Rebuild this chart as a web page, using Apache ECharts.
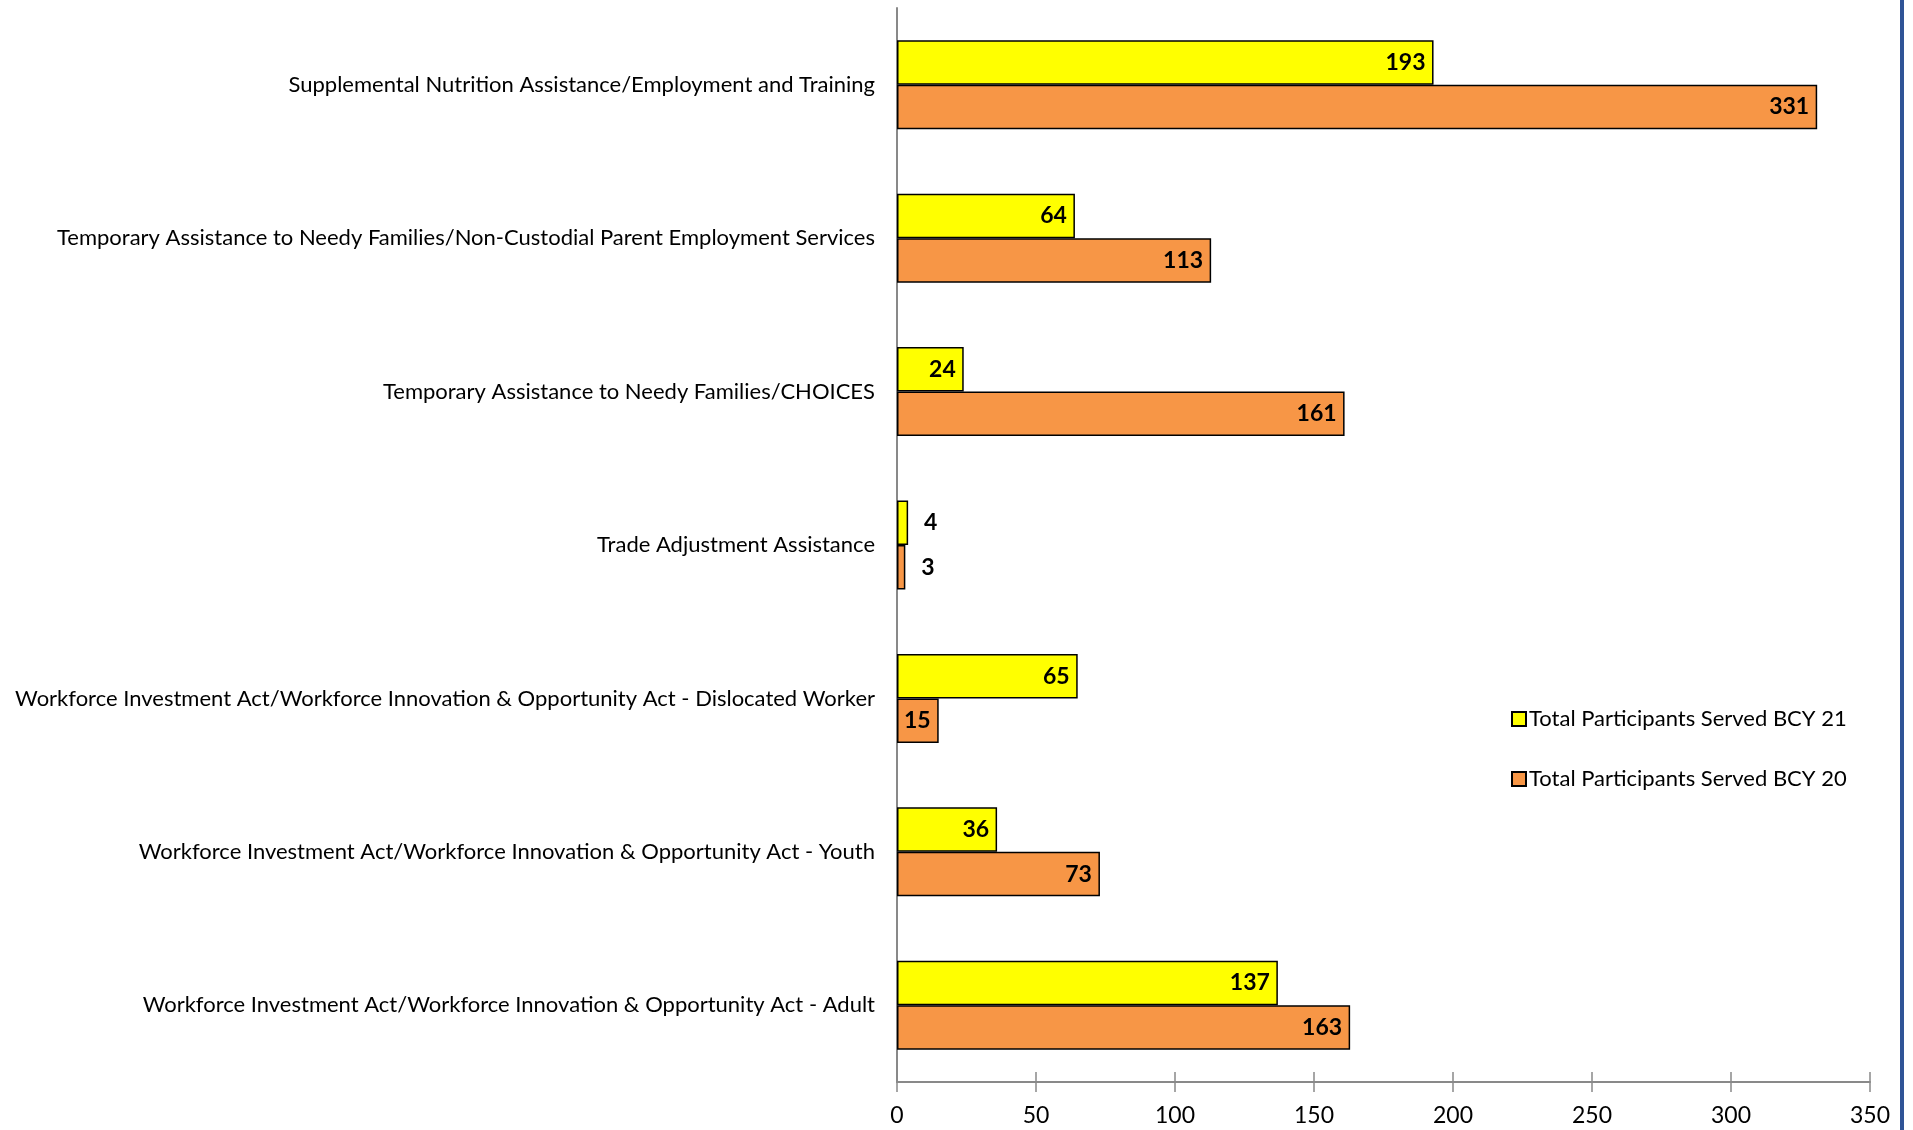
<!DOCTYPE html>
<html><head><meta charset="utf-8">
<script src="https://cdn.jsdelivr.net/npm/echarts@6/dist/echarts.min.js"></script>
<style>html,body{margin:0;padding:0;background:#fff}#c{width:1913px;height:1130px}</style>
</head><body><div id="c"></div>
<script>
const categories = [
  'Supplemental Nutrition Assistance/Employment and Training',
  'Temporary Assistance to Needy Families/Non-Custodial Parent Employment Services',
  'Temporary Assistance to Needy Families/CHOICES',
  'Trade Adjustment Assistance',
  'Workforce Investment Act/Workforce Innovation & Opportunity Act - Dislocated Worker',
  'Workforce Investment Act/Workforce Innovation & Opportunity Act - Youth',
  'Workforce Investment Act/Workforce Innovation & Opportunity Act - Adult'
];
const bcy21 = [193, 64, 24, 4, 65, 36, 137];
const bcy20 = [331, 113, 161, 3, 15, 73, 163];
const seriesNames = ['Total Participants Served BCY 21', 'Total Participants Served BCY 20'];
const xTicks = [0, 50, 100, 150, 200, 250, 300, 350];

const FONT = 'Lato';
function mkData(arr){
  return arr.map(v => v < 10
    ? {value: v, label: {position: 'right', distance: 16}}
    : {value: v});
}
const labelCfg = {show: true, position: 'insideRight', distance: 8, color: '#000',
  fontWeight: 'bold', fontSize: 23, fontFamily: FONT};
const axisBase = {type: 'value', min: xTicks[0], max: xTicks[xTicks.length-1], interval: 50,
  splitLine: {show: false}};
const chart = echarts.init(document.getElementById('c'));
chart.setOption({
  animation: false,
  textStyle: {fontFamily: FONT},
  grid: {left: 897, right: 43, top: 8, bottom: 48},
  legend: {
    orient: 'vertical', left: 1506, top: 703, itemGap: 38, icon: 'rect',
    itemWidth: 14, itemHeight: 14,
    data: seriesNames,
    textStyle: {fontSize: 22, color: '#000', fontFamily: FONT, padding: [0, 0, 0, -2]}
  },
  xAxis: [
    Object.assign({}, axisBase, {
      axisLine: {show: true, lineStyle: {color: '#898989', width: 2}},
      axisTick: {show: true, length: 10, lineStyle: {color: '#898989', width: 1.5}},
      axisLabel: {color: '#000', fontSize: 23, margin: 22, fontFamily: FONT}
    }),
    Object.assign({}, axisBase, {
      position: 'bottom',
      axisLine: {show: false},
      axisTick: {show: true, inside: true, length: 10, lineStyle: {color: '#898989', width: 1.5}},
      axisLabel: {show: false}
    })
  ],
  yAxis: {
    type: 'category', data: categories, inverse: true,
    axisLine: {show: true, lineStyle: {color: '#898989', width: 2}},
    axisTick: {show: false},
    axisLabel: {color: '#000', fontSize: 22, margin: 22, fontFamily: FONT}
  },
  series: [
    {name: seriesNames[0], type: 'bar', data: mkData(bcy21), barGap: '0%', barCategoryGap: '42%',
     itemStyle: {color: '#FFFF00', borderColor: '#000', borderWidth: 1.5}, label: labelCfg},
    {name: seriesNames[1], type: 'bar', data: mkData(bcy20), barGap: '0%', barCategoryGap: '42%',
     itemStyle: {color: '#F79646', borderColor: '#000', borderWidth: 1.5}, label: labelCfg}
  ],
  graphic: [{type: 'rect', shape: {x: 1900, y: 0, width: 4, height: 1130},
    style: {fill: '#2F5496'}}]
});
</script></body></html>
